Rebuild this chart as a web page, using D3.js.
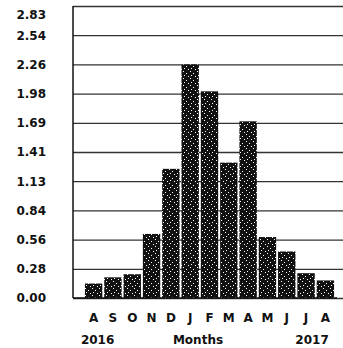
<!DOCTYPE html>
<html>
<head>
<meta charset="utf-8">
<script src="https://cdn.jsdelivr.net/npm/d3@7"></script>
<style>
  html, body { margin: 0; padding: 0; background: #fff; }
  svg { display: block; }
  text { font-family: "DejaVu Sans", sans-serif; font-weight: bold; fill: #111; }
</style>
</head>
<body>
<svg id="chart" width="343" height="348"></svg>
<script>
// ---- data ----
const months = ["A", "S", "O", "N", "D", "J", "F", "M", "A", "M", "J", "J", "A"];
const monthKeys = ["2016-08","2016-09","2016-10","2016-11","2016-12","2017-01","2017-02","2017-03","2017-04","2017-05","2017-06","2017-07","2017-08"];
const values = [0.14, 0.20, 0.23, 0.62, 1.25, 2.26, 2.00, 1.31, 1.71, 0.59, 0.45, 0.24, 0.17];
const yTickLabels = ["0.00","0.28","0.56","0.84","1.13","1.41","1.69","1.98","2.26","2.54","2.83"];
const yMax = 2.826;
const yearLabels = [{ text: "2016", at: "2016-08" }, { text: "2017", at: "2017-07" }];
const xTitle = "Months";

// ---- layout ----
const W = 343, H = 348;
const axisX = 73, baseY = 298, topY = 6, rightX = 343;

const svg = d3.select("#chart");

// speckle pattern to mimic the textured bars
const defs = svg.append("defs");
const pat = defs.append("pattern").attr("id", "speckle")
  .attr("width", 7).attr("height", 7).attr("patternUnits", "userSpaceOnUse");
pat.append("rect").attr("width", 7).attr("height", 7).attr("fill", "#111");
[[1,1],[4,3],[2,5],[6,6]].forEach(([px,py]) =>
  pat.append("rect").attr("x", px).attr("y", py).attr("width", 1).attr("height", 1).attr("fill", "#fff"));

const x = d3.scaleBand().domain(monthKeys).range([83, 336]).paddingInner(0.1).paddingOuter(0.1);
const y = d3.scaleLinear().domain([0, yMax]).range([baseY, topY]);

// y axis with gridlines
const yTicks = yTickLabels.map((_, i) => i * yMax / (yTickLabels.length - 1));
const yAxis = d3.axisLeft(y)
  .tickValues(yTicks)
  .tickFormat((d, i) => yTickLabels[i])
  .tickSize(-(rightX - axisX))
  .tickPadding(27);
const gy = svg.append("g").attr("transform", `translate(${axisX},0)`).call(yAxis);
gy.select(".domain").remove();
gy.selectAll(".tick line").attr("stroke", "#333").attr("stroke-width", 1.3);
gy.selectAll(".tick text").attr("font-size", 12).attr("fill", "#111");
// keep the top label inside the frame, as in the reference
gy.selectAll(".tick text").filter((d, i) => i === yTickLabels.length - 1).attr("dy", "1.0em");

// y axis line
svg.append("line").attr("x1", axisX).attr("x2", axisX).attr("y1", topY).attr("y2", baseY)
  .attr("stroke", "#111").attr("stroke-width", 1.5);

// bars
svg.append("g").selectAll("rect").data(values).join("rect")
  .attr("x", (d, i) => x(monthKeys[i]))
  .attr("y", d => y(d))
  .attr("width", x.bandwidth())
  .attr("height", d => baseY - y(d))
  .attr("fill", "url(#speckle)");

// baseline
svg.append("line").attr("x1", axisX).attr("x2", 337).attr("y1", baseY).attr("y2", baseY)
  .attr("stroke", "#111").attr("stroke-width", 1.5);

// x axis labels
const xAxis = d3.axisBottom(x).tickFormat((d, i) => months[i]).tickSize(0).tickPadding(15);
const gx = svg.append("g").attr("transform", `translate(0,${baseY})`).call(xAxis);
gx.select(".domain").remove();
gx.selectAll(".tick text").attr("font-size", 12).attr("fill", "#111");

// year labels and title
svg.append("g").selectAll("text").data(yearLabels).join("text")
  .attr("x", d => x(d.at) + x.bandwidth() / 2 + (d.text === "2016" ? 4 : 6))
  .attr("y", 344)
  .attr("text-anchor", "middle")
  .attr("font-size", 12)
  .text(d => d.text);

svg.append("text")
  .attr("x", 198).attr("y", 344)
  .attr("text-anchor", "middle")
  .attr("font-size", 12)
  .text(xTitle);
</script>
</body>
</html>
